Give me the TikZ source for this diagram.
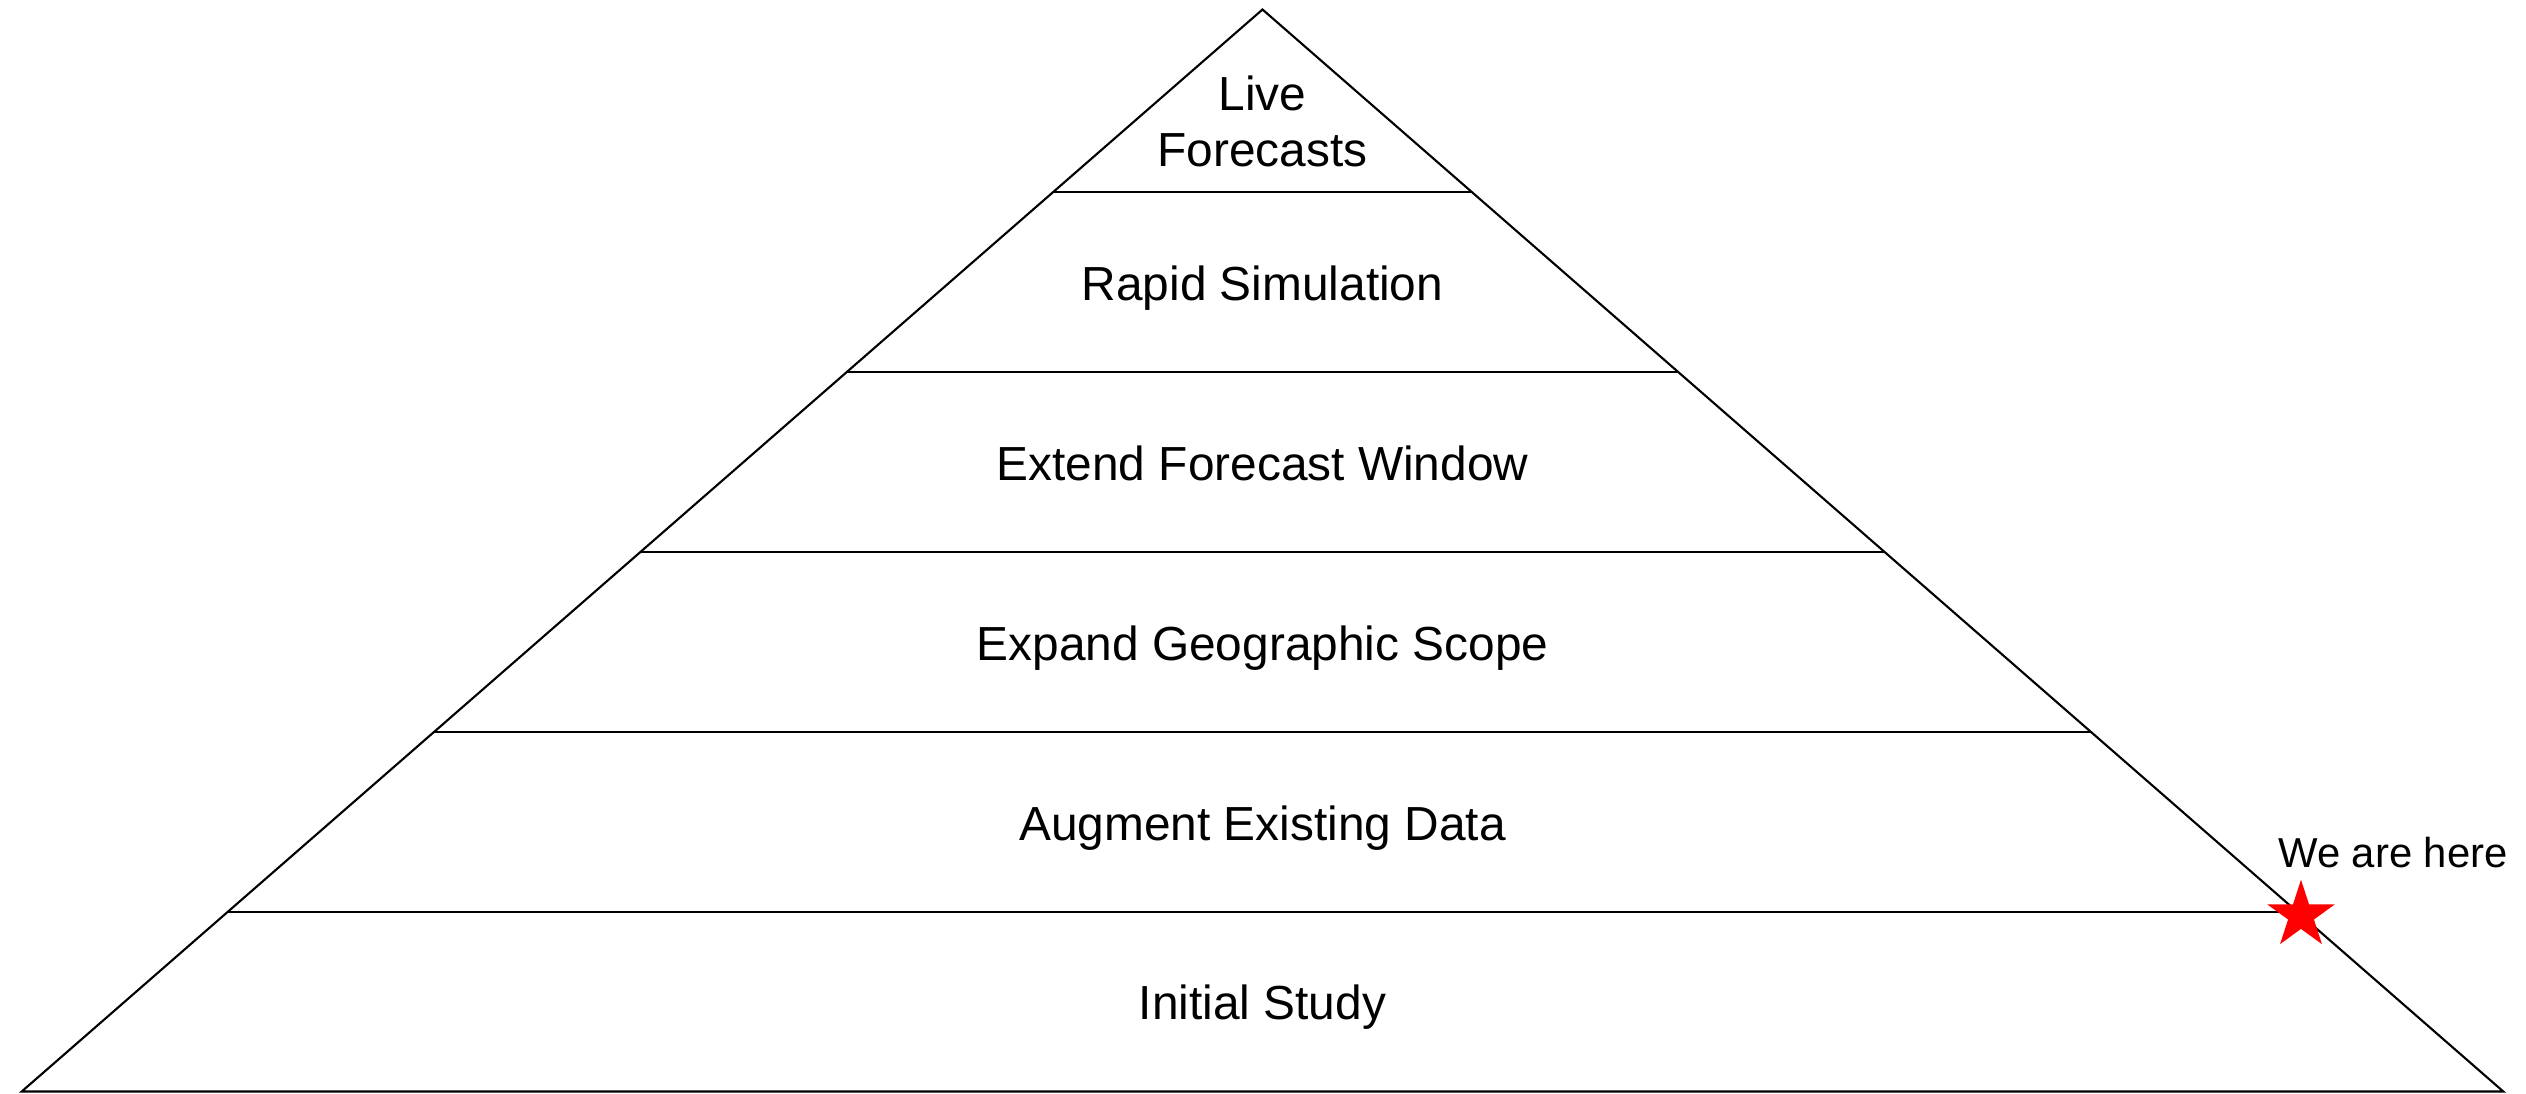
\documentclass[tikz,border=0pt]{standalone}
\usepackage{fontspec}
\setmainfont{Liberation Sans}
\usetikzlibrary{calc}
\begin{document}
\begin{tikzpicture}[x=0.01cm,y=-0.01cm,
  edge/.style={draw=black,line width=0.6pt},
  level/.style={anchor=base,inner sep=0pt,font=\fontsize{13.6pt}{15.9pt}\selectfont},
  note/.style={anchor=base,inner sep=0pt,font=\fontsize{11.9pt}{14pt}\selectfont},
  marker/.style={fill=red,draw=none}]
\useasboundingbox (0,0) rectangle (2526,1093);
\coordinate (apex) at (1262.5,9.5);
\coordinate (bl) at (21.7,1091.5);
\coordinate (br) at (2503.3,1091.5);
\draw[edge,line join=miter] (bl) -- (apex) -- (br) -- cycle;
\foreach \yy/\nm in {192/a,372/b,552/c,732/d,912/e}{
  \pgfmathsetmacro{\ff}{(\yy-9.5)/1082}
  \coordinate (L\nm) at ($(apex)!\ff!(bl)$);
  \coordinate (R\nm) at ($(apex)!\ff!(br)$);
  \draw[edge] (L\nm) -- (R\nm);
}
\node[level,align=center] (live) at (1262.5,166.7) {Live\\Forecasts};
\node[level] (rapid) at (1262.5,300) {Rapid Simulation};
\node[level] (extend) at (1262.5,480) {Extend Forecast Window};
\node[level] (expand) at (1262.5,660) {Expand Geographic Scope};
\node[level] (augment) at (1262.5,840) {Augment Existing Data};
\node[level] (initial) at (1262.5,1019) {Initial Study};
\node[note] (here) at (2393,867) {We are here};
\coordinate (starc) at (2301,915.3);
\fill[marker] ($(starc)+(270:35.6)$)
  \foreach \k in {1,...,9}{ -- ($(starc)+({270+36*\k}:{ifthenelse(mod(\k,2)==1,13.6,35.6)})$) } -- cycle;
\end{tikzpicture}
\end{document}
